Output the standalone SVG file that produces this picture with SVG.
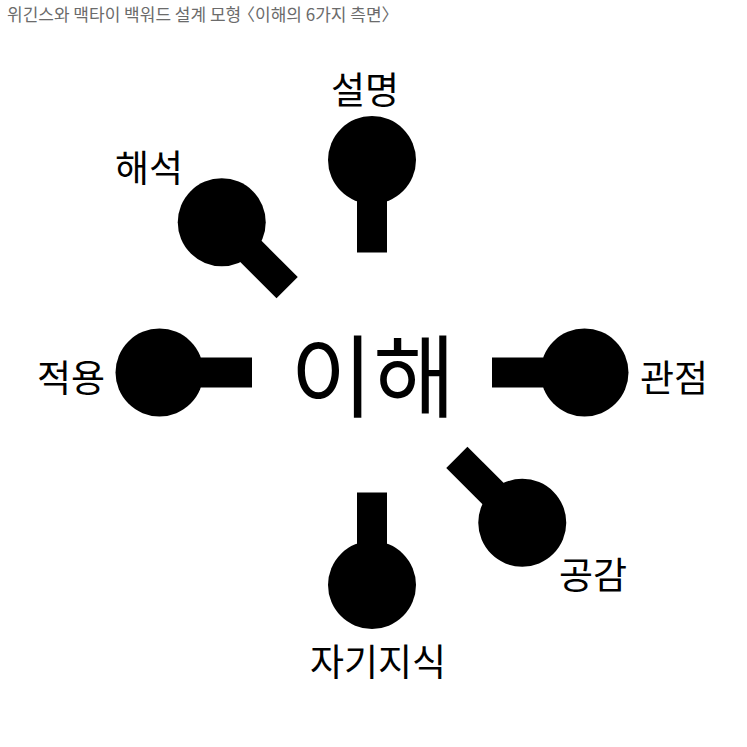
<svg xmlns="http://www.w3.org/2000/svg" width="747" height="747" viewBox="0 0 747 747">
<style>
.title{font-family:"Noto Sans CJK KR","Noto Sans",sans-serif;font-size:17px;fill:#6b6b6b}
.lbl{font-family:"Noto Sans CJK KR","Noto Sans",sans-serif;font-size:37px;fill:#000;text-anchor:middle}
.ctr{font-family:"Noto Sans CJK KR","Noto Sans",sans-serif;font-size:90px;font-weight:400;fill:#000;text-anchor:middle}
.bulb{fill:#000}
</style>
<defs>
<g id="pin">
<rect x="120" y="-15" width="65" height="30"/>
<circle cx="212.5" cy="0" r="44"/>
</g>
</defs>
<rect width="747" height="747" fill="#fff"/>
<text class="title" x="7" y="21">위긴스와 맥타이 백워드 설계 모형 <tspan dx="-7">〈이해의 6가지 측면〉</tspan></text>
<g id="center"><text class="ctr" x="373" y="410">이해</text></g>
<g id="connectors"></g>
<g id="node-explanation" class="bulb"><use href="#pin" transform="translate(372 372.5) rotate(-90)"/><text class="lbl" x="365" y="104">설명</text></g>
<g id="node-interpretation" class="bulb"><use href="#pin" transform="translate(372 372.5) rotate(-135)"/><text class="lbl" x="149" y="182">해석</text></g>
<g id="node-application" class="bulb"><use href="#pin" transform="translate(372 372.5) rotate(180)"/><text class="lbl" x="71" y="392">적용</text></g>
<g id="node-perspective" class="bulb"><use href="#pin" transform="translate(372 372.5)"/><text class="lbl" x="674" y="392">관점</text></g>
<g id="node-empathy" class="bulb"><use href="#pin" transform="translate(372 372.5) rotate(45)"/><text class="lbl" x="593" y="589">공감</text></g>
<g id="node-selfknowledge" class="bulb"><use href="#pin" transform="translate(372 372.5) rotate(90)"/><text class="lbl" x="378" y="676">자기지식</text></g>
</svg>
